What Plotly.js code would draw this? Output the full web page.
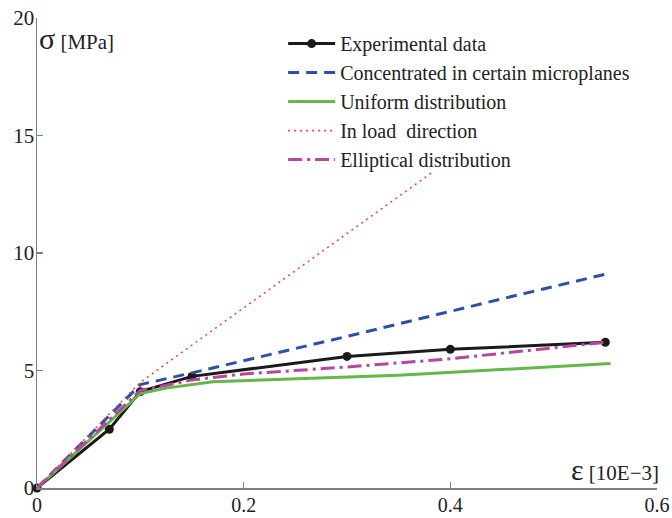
<!DOCTYPE html>
<html>
<head>
<meta charset="utf-8">
<script src="https://cdn.plot.ly/plotly-3.0.1.min.js"></script>
<style>html,body{margin:0;padding:0;background:#fff;}#chart{width:672px;height:518px;}</style>
</head>
<body>
<div id="chart"></div>
<script>
const seriesNames = ["Experimental data", "Concentrated in certain microplanes", "Uniform distribution", "In load  direction", "Elliptical distribution"];

const expX = [0, 0.07, 0.1, 0.15, 0.3, 0.4, 0.55];
const expY = [0, 2.5, 4.1, 4.75, 5.6, 5.9, 6.2];

const concX = [0, 0.1, 0.15, 0.3, 0.45, 0.555];
const concY = [0, 4.4, 4.9, 6.45, 8.05, 9.15];

const unifX = [0, 0.1, 0.125, 0.17, 0.35, 0.555];
const unifY = [0, 4.02, 4.25, 4.52, 4.8, 5.3];

const loadX = [0, 0.1, 0.383];
const loadY = [0, 4.5, 13.45];

const ellX = [0, 0.1, 0.15, 0.2, 0.3, 0.4, 0.55];
const ellY = [0, 4.15, 4.6, 4.85, 5.15, 5.5, 6.2];

const xTicks = [0, 0.2, 0.4, 0.6];
const xTickText = ["0", "0.2", "0.4", "0.6"];
const yTicks = [0, 5, 10, 15, 20];
const yTickText = ["0", "5", "10", "15", "20"];

const serif = "Liberation Serif";

const traces = [
  {x: expX, y: expY, name: seriesNames[0], mode: "lines+markers",
   line: {color: "#1a1a1a", width: 3}, marker: {color: "#1a1a1a", size: 9}, cliponaxis: false},
  {x: concX, y: concY, name: seriesNames[1], mode: "lines",
   line: {color: "#2f4fa6", width: 3, dash: "11px,7px"}, cliponaxis: false},
  {x: unifX, y: unifY, name: seriesNames[2], mode: "lines",
   line: {color: "#62b848", width: 3}, cliponaxis: false},
  {x: loadX, y: loadY, name: seriesNames[3], mode: "lines",
   line: {color: "#f0484a", width: 1.6, dash: "2px,4px"}, cliponaxis: false},
  {x: ellX, y: ellY, name: seriesNames[4], mode: "lines",
   line: {color: "#b6479c", width: 3, dash: "14px,5px,3px,5px"}, cliponaxis: false}
];

const layout = {
  width: 672, height: 518,
  margin: {l: 36.5, r: 14.5, t: 17.5, b: 29.6},
  paper_bgcolor: "#fff", plot_bgcolor: "#fff",
  font: {family: serif, size: 21, color: "#222"},
  showlegend: true,
  legend: {x: 0.397, y: 0.987, xanchor: "left", yanchor: "top", bgcolor: "rgba(0,0,0,0)",
           font: {family: serif, size: 20, color: "#222"}, traceorder: "normal",
           itemwidth: 47},
  xaxis: {range: [0, 0.6], tickvals: xTicks, ticktext: xTickText, showgrid: false, zeroline: false,
          showline: true, linecolor: "#808080", linewidth: 1.5, ticks: "inside", ticklen: 6, ticklabelstandoff: -2,
          tickcolor: "#808080", tickwidth: 1.2, tickfont: {family: serif, size: 20, color: "#222"}, fixedrange: true},
  yaxis: {range: [0, 20], tickvals: yTicks, ticktext: yTickText, showgrid: false, zeroline: false,
          showline: true, linecolor: "#808080", linewidth: 1.5, ticks: "inside", ticklen: 6, ticklabelstandoff: -3,
          tickcolor: "#808080", tickwidth: 1.2, tickfont: {family: serif, size: 21, color: "#222"}, fixedrange: true},
  annotations: [
    {xref: "paper", yref: "paper", x: 0.0, y: 0.995, xanchor: "left", yanchor: "top", showarrow: false,
     text: "<span style='font-size:30px'>σ</span> <span style='font-size:21px'>[MPa]</span>",
     font: {family: serif, color: "#222"}},
    {xref: "paper", yref: "paper", x: 1.007, y: 0.0, xanchor: "right", yanchor: "bottom", showarrow: false,
     text: "<span style='font-size:30px'>ε</span> <span style='font-size:21px'>[10E−3]</span>",
     font: {family: serif, color: "#222"}}
  ]
};

Plotly.newPlot("chart", traces, layout, {displayModeBar: false, staticPlot: true});
</script>
</body>
</html>
